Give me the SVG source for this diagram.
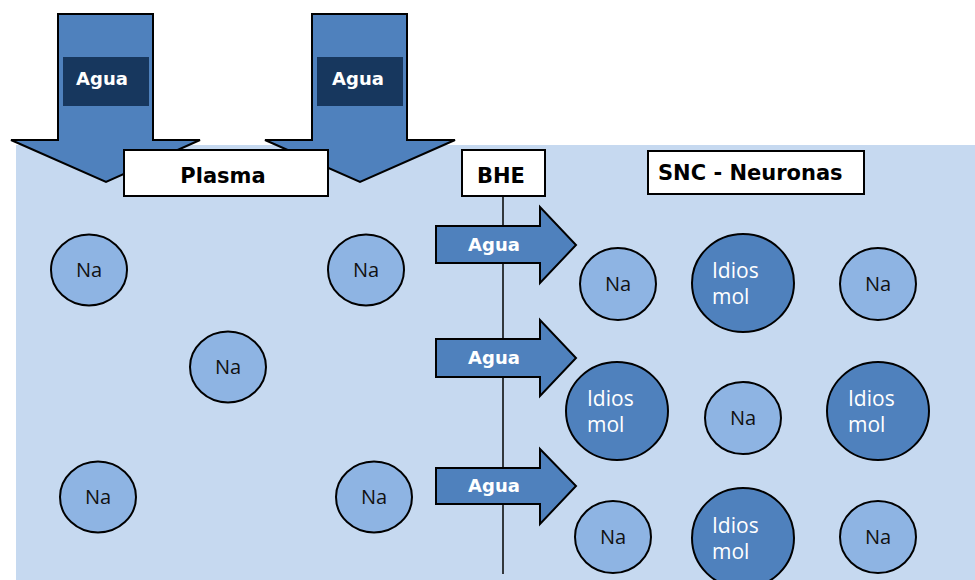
<svg xmlns="http://www.w3.org/2000/svg" width="975" height="580" viewBox="0 0 975 580">
<style>
.arrow{fill:#4F81BD;stroke:#000;stroke-width:2;stroke-linejoin:miter}
.dark{fill:#17375E}
.lbl{fill:#fff;stroke:#000;stroke-width:2}
.tb{font-family:"DejaVu Sans",Verdana,sans-serif;font-weight:bold;font-size:21px;fill:#000}
.tw{font-family:"DejaVu Sans",Verdana,sans-serif;font-weight:bold;font-size:18px;fill:#fff;text-anchor:middle}
.na{fill:#8EB4E3;stroke:#000;stroke-width:2}
.idm{fill:#4F81BD;stroke:#000;stroke-width:2}
.tna{font-family:"Open Sans","Noto Sans",sans-serif;font-size:20px;fill:#111;text-anchor:middle}
.tid{font-family:"Open Sans","Noto Sans",sans-serif;font-size:21px;fill:#fff}
</style>
<rect x="16" y="145" width="959" height="435" fill="#C6D9F0"/>
<g id="water-down-1">
<polygon class="arrow" points="58,14 153,14 153,140 200,140 106,182 11,140 58,140"/>
<rect class="dark" x="63" y="57" width="86" height="49"/>
<text class="tw" x="102" y="85">Agua</text>
</g>
<g id="water-down-2">
<polygon class="arrow" points="312,14 407,14 407,140 455,140 360,182 265,140 312,140"/>
<rect class="dark" x="317" y="57" width="86" height="49"/>
<text class="tw" x="358" y="85">Agua</text>
</g>
<g id="plasma-label">
<rect class="lbl" x="124" y="150" width="204" height="46"/>
<text class="tb" x="223" y="183" text-anchor="middle">Plasma</text>
</g>
<g id="connectors">
<line x1="503" y1="196" x2="503" y2="574" stroke="#000" stroke-width="1.5"/>
</g>
<g id="bhe-label">
<rect class="lbl" x="462" y="150" width="83" height="46"/>
<text class="tb" x="477" y="183">BHE</text>
</g>
<g id="snc-label">
<rect class="lbl" x="648" y="151" width="216" height="43"/>
<text class="tb" x="658" y="180">SNC - Neuronas</text>
</g>
<g id="water-right-1">
<polygon class="arrow" points="436,226 540,226 540,207 576,245 540,283 540,263 436,263"/>
<text class="tw" x="494" y="251">Agua</text>
</g>
<g id="water-right-2">
<polygon class="arrow" points="436,339 540,339 540,320 576,358 540,396 540,377 436,377"/>
<text class="tw" x="494" y="364">Agua</text>
</g>
<g id="water-right-3">
<polygon class="arrow" points="436,468 540,468 540,449 576,486 540,524 540,504 436,504"/>
<text class="tw" x="494" y="492">Agua</text>
</g>
<g id="plasma-na-1"><ellipse class="na" cx="89" cy="270" rx="38" ry="35.5"/><text class="tna" x="89" y="277">Na</text></g>
<g id="plasma-na-2"><ellipse class="na" cx="366" cy="270" rx="38" ry="35.5"/><text class="tna" x="366" y="277">Na</text></g>
<g id="plasma-na-3"><ellipse class="na" cx="228" cy="367" rx="38" ry="35.5"/><text class="tna" x="228" y="374">Na</text></g>
<g id="plasma-na-4"><ellipse class="na" cx="98" cy="497" rx="38" ry="35.5"/><text class="tna" x="98" y="504">Na</text></g>
<g id="plasma-na-5"><ellipse class="na" cx="374" cy="497" rx="38" ry="35.5"/><text class="tna" x="374" y="504">Na</text></g>
<g id="snc-na-1"><ellipse class="na" cx="618" cy="284" rx="38" ry="36"/><text class="tna" x="618" y="291">Na</text></g>
<g id="snc-id-1"><ellipse class="idm" cx="743" cy="283" rx="51" ry="49"/><text class="tid" x="712" y="278">Idios</text><text class="tid" x="712" y="304">mol</text></g>
<g id="snc-na-2"><ellipse class="na" cx="878" cy="284" rx="38" ry="36"/><text class="tna" x="878" y="291">Na</text></g>
<g id="snc-id-2"><ellipse class="idm" cx="617" cy="411" rx="51" ry="49"/><text class="tid" x="587" y="406">Idios</text><text class="tid" x="587" y="432">mol</text></g>
<g id="snc-na-3"><ellipse class="na" cx="743" cy="418" rx="38" ry="36"/><text class="tna" x="743" y="425">Na</text></g>
<g id="snc-id-3"><ellipse class="idm" cx="878" cy="411" rx="51" ry="49"/><text class="tid" x="848" y="406">Idios</text><text class="tid" x="848" y="432">mol</text></g>
<g id="snc-na-4"><ellipse class="na" cx="613" cy="537" rx="38" ry="36"/><text class="tna" x="613" y="544">Na</text></g>
<g id="snc-id-4"><ellipse class="idm" cx="743" cy="538" rx="51" ry="50"/><text class="tid" x="712" y="533">Idios</text><text class="tid" x="712" y="559">mol</text></g>
<g id="snc-na-5"><ellipse class="na" cx="878" cy="537" rx="38" ry="36"/><text class="tna" x="878" y="544">Na</text></g>
</svg>
